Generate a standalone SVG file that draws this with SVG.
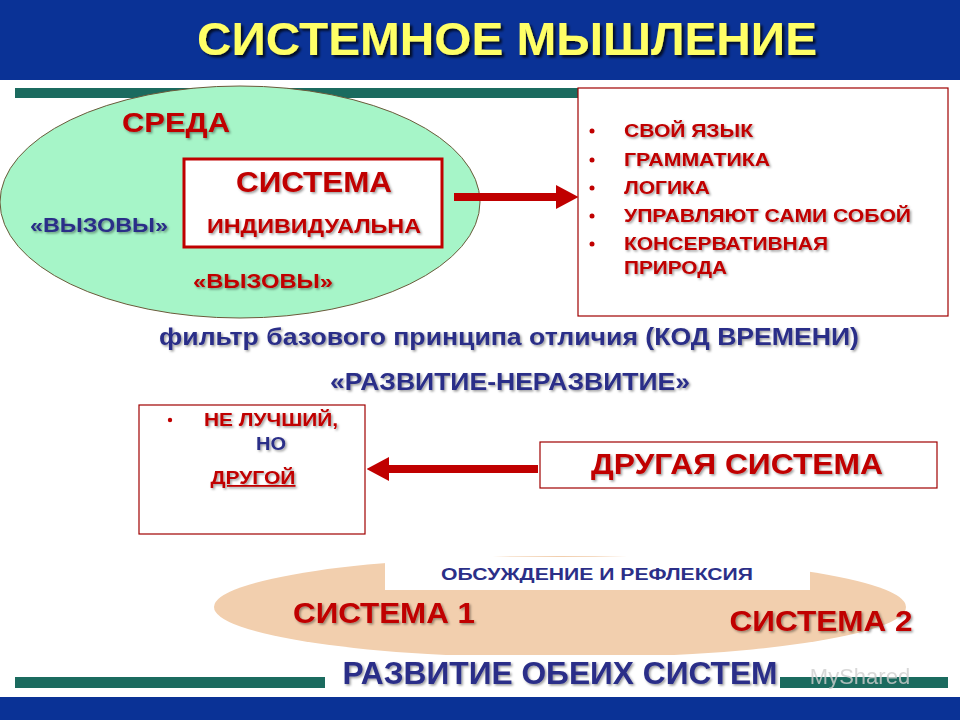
<svg xmlns="http://www.w3.org/2000/svg" width="960" height="720" viewBox="0 0 960 720">
<style>
text{font-family:"Liberation Sans",Arial,sans-serif;font-weight:bold}
.red{fill:#c00000}
.blue{fill:#2b2f88}
.sh{filter:url(#sh)}
.box{fill:#fff;stroke:#a00000;stroke-width:1.2}
</style>
<defs>
<filter id="sh" x="-10%" y="-30%" width="130%" height="170%">
<feDropShadow dx="1.5" dy="1.5" stdDeviation="0.8" flood-color="#000" flood-opacity="0.4"/>
</filter>
<filter id="tsh" x="-10%" y="-30%" width="130%" height="170%">
<feDropShadow dx="2.5" dy="2.5" stdDeviation="1" flood-color="#000" flood-opacity="0.75"/>
</filter>
<marker id="ah" markerWidth="2.8" markerHeight="3" refX="0" refY="1.5" orient="auto" markerUnits="strokeWidth">
<path d="M0,0 L2.8,1.5 L0,3 Z" fill="#c00000"/>
</marker>
</defs>
<rect width="960" height="720" fill="#fff"/>
<rect x="0" y="0" width="960" height="80" fill="#0a3296"/>
<text x="507" y="55" text-anchor="middle" font-size="47" textLength="620" lengthAdjust="spacingAndGlyphs" fill="#ffff66" filter="url(#tsh)">СИСТЕМНОЕ МЫШЛЕНИЕ</text>
<rect x="15" y="88" width="565" height="10" fill="#1b6b5f"/>
<rect x="15" y="677" width="310" height="11" fill="#1b6b5f"/>
<rect x="780" y="677" width="168" height="11" fill="#1b6b5f"/>
<rect x="0" y="697" width="960" height="23" fill="#0a3296"/>

<g id="sreda">
<ellipse cx="240" cy="202" rx="240" ry="116" fill="#a6f5c8" stroke="#6b5a3a" stroke-width="1"/>
<text x="176" y="132" text-anchor="middle" font-size="28" textLength="108" lengthAdjust="spacingAndGlyphs" class="red sh">СРЕДА</text>
<text x="99" y="232" text-anchor="middle" font-size="20" textLength="138" lengthAdjust="spacingAndGlyphs" class="blue sh">«ВЫЗОВЫ»</text>
<text x="263" y="288" text-anchor="middle" font-size="20" textLength="140" lengthAdjust="spacingAndGlyphs" class="red sh">«ВЫЗОВЫ»</text>
</g>
<g id="sistema">
<rect x="184" y="159" width="258" height="88" fill="#fff" stroke="#c00000" stroke-width="3"/>
<text x="314" y="192" text-anchor="middle" font-size="29" textLength="156" lengthAdjust="spacingAndGlyphs" class="red sh">СИСТЕМА</text>
<text x="314" y="233" text-anchor="middle" font-size="20" textLength="214" lengthAdjust="spacingAndGlyphs" class="red sh">ИНДИВИДУАЛЬНА</text>
</g>
<g id="props">
<rect x="578" y="88" width="370" height="228" class="box"/>
<g font-size="18" class="red sh">
<text x="624" y="137" textLength="129" lengthAdjust="spacingAndGlyphs">СВОЙ ЯЗЫК</text>
<text x="624" y="166" textLength="146" lengthAdjust="spacingAndGlyphs">ГРАММАТИКА</text>
<text x="624" y="194" textLength="86" lengthAdjust="spacingAndGlyphs">ЛОГИКА</text>
<text x="624" y="222" textLength="287" lengthAdjust="spacingAndGlyphs">УПРАВЛЯЮТ САМИ СОБОЙ</text>
<text x="624" y="250" textLength="204" lengthAdjust="spacingAndGlyphs">КОНСЕРВАТИВНАЯ</text>
<text x="624" y="274" textLength="103" lengthAdjust="spacingAndGlyphs">ПРИРОДА</text>
</g>
<g fill="#c00000">
<circle cx="592" cy="131" r="2.5"/>
<circle cx="592" cy="160" r="2.5"/>
<circle cx="592" cy="188" r="2.5"/>
<circle cx="592" cy="216" r="2.5"/>
<circle cx="592" cy="244" r="2.5"/>
</g>
</g>
<g id="filter-text">
<text x="509" y="345" text-anchor="middle" font-size="24" textLength="700" lengthAdjust="spacingAndGlyphs" class="blue sh">фильтр базового принципа отличия (КОД ВРЕМЕНИ)</text>
<text x="510" y="390" text-anchor="middle" font-size="24" textLength="360" lengthAdjust="spacingAndGlyphs" class="blue sh">«РАЗВИТИЕ-НЕРАЗВИТИЕ»</text>
</g>
<g id="ne-luchshiy">
<rect x="139" y="405" width="226" height="129" class="box"/>
<circle cx="170" cy="420" r="2.2" fill="#c00000"/>
<text x="271" y="426" text-anchor="middle" font-size="18" textLength="134" lengthAdjust="spacingAndGlyphs" class="red sh">НЕ ЛУЧШИЙ,</text>
<text x="271" y="450" text-anchor="middle" font-size="18" textLength="30" lengthAdjust="spacingAndGlyphs" class="blue sh">НО</text>
<text x="253" y="484" text-anchor="middle" font-size="18" textLength="85" lengthAdjust="spacingAndGlyphs" class="red sh" text-decoration="underline">ДРУГОЙ</text>
</g>
<g id="drugaya">
<rect x="540" y="442" width="397" height="46" class="box"/>
<text x="737" y="474" text-anchor="middle" font-size="29" textLength="292" lengthAdjust="spacingAndGlyphs" class="red sh">ДРУГАЯ СИСТЕМА</text>
</g>
<g id="razvitie">
<ellipse cx="560" cy="607" rx="346" ry="51" fill="#f2cfae"/>
<rect x="385" y="557" width="425" height="33" fill="#fff"/>
<text x="597" y="580" text-anchor="middle" font-size="16" textLength="312" lengthAdjust="spacingAndGlyphs" class="blue">ОБСУЖДЕНИЕ И РЕФЛЕКСИЯ</text>
<text x="384" y="623" text-anchor="middle" font-size="29" textLength="182" lengthAdjust="spacingAndGlyphs" class="red sh">СИСТЕМА 1</text>
<text x="821" y="631" text-anchor="middle" font-size="29" textLength="183" lengthAdjust="spacingAndGlyphs" class="red sh">СИСТЕМА 2</text>
<rect x="330" y="655" width="448" height="38" fill="#fff"/>
<text x="560" y="684" text-anchor="middle" font-size="31" textLength="435" lengthAdjust="spacingAndGlyphs" class="blue sh">РАЗВИТИЕ ОБЕИХ СИСТЕМ</text>
</g>
<text x="860" y="684" text-anchor="middle" font-size="22" style="font-weight:normal" fill="#cfcfcf" opacity="0.8">MyShared</text>
<g id="connectors" stroke="#c00000" stroke-width="8" fill="none">
<line x1="454" y1="197" x2="556" y2="197" marker-end="url(#ah)"/>
<line x1="538" y1="469" x2="389" y2="469" marker-end="url(#ah)"/>
</g>
</svg>
